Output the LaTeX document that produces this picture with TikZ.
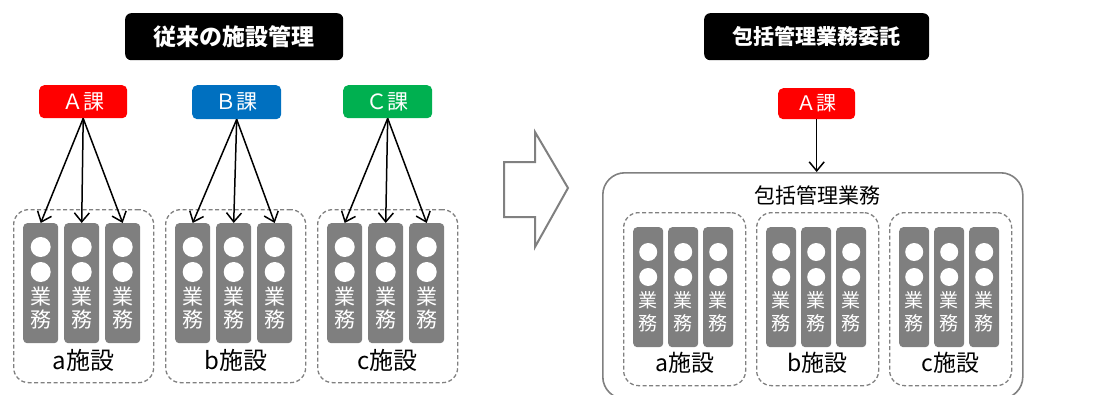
\documentclass[tikz,border=0pt]{standalone}
\usepackage{fontspec}
\setmainfont{Noto Sans CJK JP}
\usetikzlibrary{arrows.meta,calc}
\definecolor{kared}{HTML}{FF0000}
\definecolor{kablue}{HTML}{0070C0}
\definecolor{kagreen}{HTML}{00B050}
\definecolor{bargray}{HTML}{7F7F7F}
\definecolor{linegray}{HTML}{808080}
\tikzset{
  titlebox/.style={fill=black, rounded corners=6pt, text=white, font=\bfseries\fontsize{23}{26}\selectfont, inner sep=0pt},
  kabox/.style={rounded corners=5pt, text=white, font=\fontsize{21}{24}\selectfont, inner sep=0pt},
  dbox/.style={draw=linegray, line width=1.3pt, dash pattern=on 4pt off 2.5pt, rounded corners=15pt, inner sep=0pt},
  bar/.style={fill=bargray, rounded corners=4pt, inner sep=0pt},
  dot/.style={circle, fill=white, inner sep=0pt},
  bartext/.style={text=white, inner sep=0pt},
  lab/.style={text=black, inner sep=0pt, font=\fontsize{24}{28}\selectfont},
  arr/.style={line width=1.5pt, -{Straight Barb[length=9pt,width=15pt,line width=1.5pt]}},
  bigbox/.style={draw=linegray, line width=1.6pt, rounded corners=22pt, inner sep=0pt},
  hollow/.style={draw=linegray, line width=2pt, fill=white, line join=miter}
}
\begin{document}
\begin{tikzpicture}[x=1pt,y=-1pt]
\useasboundingbox (0,0) rectangle (1098,394);
% titles
\node[titlebox, minimum width=218pt, minimum height=47pt, anchor=north west] (T1) at (125,13) {従来の施設管理};
\node[titlebox, minimum width=225pt, minimum height=47pt, anchor=north west, font=\bfseries\fontsize{21}{24}\selectfont] (T2) at (704,13) {包括管理業務委託};
% departments left
\node[kabox, fill=kared, minimum width=88pt, minimum height=33pt, anchor=north west] (KA) at (39,85) {Ａ課};
\node[kabox, fill=kablue, minimum width=89pt, minimum height=34pt, anchor=north west] (KB) at (192,85) {Ｂ課};
\node[kabox, fill=kagreen, minimum width=89pt, minimum height=33pt, anchor=north west] (KC) at (343,85) {Ｃ課};
% left facilities
\foreach \g/\x/\lab in {a/13/a施設, b/165/b施設, c/317/c施設} {
  \node[dbox, minimum width=140pt, minimum height=173pt, anchor=north west] (L\g) at (\x,209) {};
  \foreach \i in {1,2,3} {
    \node[bar, minimum width=35pt, minimum height=120pt, anchor=north west] (L\g\i) at ({\x+10+41*(\i-1)},223) {};
    \node[dot, minimum size=20pt] (L\g\i d1) at ($(L\g\i.north)+(0,24)$) {};
    \node[dot, minimum size=20pt] (L\g\i d2) at ($(L\g\i.north)+(0,49)$) {};
    \node[bartext, font=\fontsize{21}{24}\selectfont] (L\g\i t1) at ($(L\g\i.north)+(0,74)$) {業};
    \node[bartext, font=\fontsize{21}{24}\selectfont] (L\g\i t2) at ($(L\g\i.north)+(0,97)$) {務};
  }
  \node[lab] (L\g lab) at ($(L\g.north)+(0,151)$) {\lab};
}
% left arrows
\foreach \k/\g in {KA/a, KB/b, KC/c} {
  \foreach \i in {1,2,3} {
    \draw[arr] (\k.south) -- (L\g\i.north);
  }
}
% hollow arrow
\draw[hollow] (504,162) coordinate (H1) -- (535,162) -- (535,132) -- (568,188) -- (535,247) -- (535,217) -- (504,217) -- cycle;
% right side
\node[kabox, fill=kared, minimum width=77pt, minimum height=31pt, anchor=north west, font=\fontsize{20}{23}\selectfont] (RA) at (778,88) {Ａ課};
\node[bigbox, minimum width=420pt, minimum height=226pt, anchor=north west] (BIG) at (602,172) {};
\node[inner sep=0pt, font=\fontsize{21}{24}\selectfont] (BIGT) at (817,195) {包括管理業務};
\draw[arr] (RA.south) -- (RA.south |- BIG.north);
\foreach \g/\x/\lab in {a/623/a施設, b/756/b施設, c/889/c施設} {
  \node[dbox, minimum width=122pt, minimum height=173pt, anchor=north west] (R\g) at (\x,212) {};
  \foreach \i in {1,2,3} {
    \node[bar, minimum width=30pt, minimum height=120pt, anchor=north west] (R\g\i) at ({\x+10+35*(\i-1)},227) {};
    \node[dot, minimum size=18pt] (R\g\i d1) at ($(R\g\i.north)+(0,25)$) {};
    \node[dot, minimum size=18pt] (R\g\i d2) at ($(R\g\i.north)+(0,50)$) {};
    \node[bartext, font=\fontsize{19}{22}\selectfont] (R\g\i t1) at ($(R\g\i.north)+(0,73)$) {業};
    \node[bartext, font=\fontsize{19}{22}\selectfont] (R\g\i t2) at ($(R\g\i.north)+(0,96)$) {務};
  }
  \node[lab, font=\fontsize{23}{26}\selectfont] (R\g lab) at ($(R\g.north)+(0,151)$) {\lab};
}
\end{tikzpicture}
\end{document}
